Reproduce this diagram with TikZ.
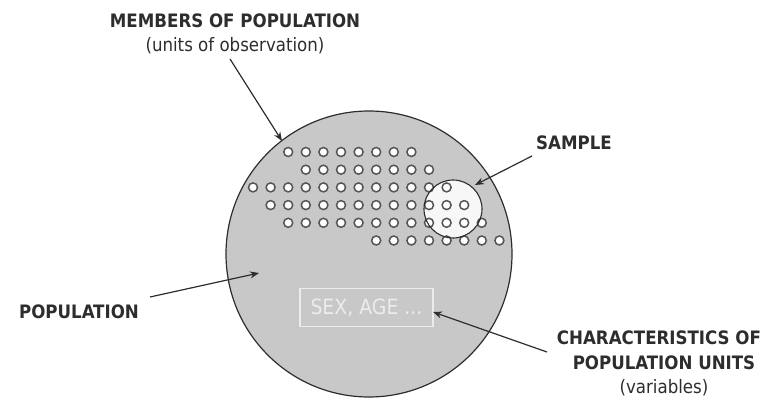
\documentclass[tikz,border=0pt]{standalone}
\usepackage{fontspec}
\setmainfont{DejaVu Sans Condensed}
\usetikzlibrary{arrows.meta}
\definecolor{popgray}{RGB}{200,200,200}
\definecolor{inkgray}{RGB}{45,45,45}
\definecolor{dotline}{RGB}{85,85,85}
\definecolor{boxline}{RGB}{236,236,236}
\tikzset{
  popcirc/.style={circle, draw=inkgray, line width=1.2pt, fill=popgray, minimum size=286pt, inner sep=0pt},
  samplefill/.style={circle, fill=white!97!black, minimum size=58pt, inner sep=0pt},
  sampleline/.style={circle, draw=inkgray, line width=1.1pt, minimum size=58pt, inner sep=0pt},
  unitdot/.style={circle, draw=dotline, line width=1.5pt, fill=white, minimum size=9pt, inner sep=0pt},
  pointer/.style={draw=inkgray, line width=1.2pt, -{Stealth[length=9pt,width=7pt]}},
  headlabel/.style={font=\fontsize{18.5}{21}\selectfont\bfseries, text=inkgray, inner sep=0pt},
  sublabel/.style={font=\fontsize{18.5}{21}\selectfont, text=inkgray, inner sep=0pt},
  varbox/.style={draw=boxline, line width=1.5pt, minimum width=133pt, minimum height=38pt, inner sep=0pt,
    font=\fontsize{21}{23}\selectfont, text=boxline}
}
\begin{document}
\begin{tikzpicture}[x=1pt,y=-1pt]
\useasboundingbox (0,0) rectangle (768,398);
% population
\node[popcirc] (pop) at (369,254) {};
\node[samplefill] (samplebg) at (453,209) {};
% dots
\foreach \j/\ka/\kb in {0/2/9,1/3/10,2/0/11,3/1/12,4/2/13,5/7/14}{
  \foreach \k in {\ka,...,\kb}{
    \node[unitdot] (d-\j-\k) at ({253+17.6*\k},{152+17.7*\j}) {};
  }
}
\node[sampleline] (sample) at (453,209) {};
% variables box
\node[varbox] (vars) at (366.5,307.5) {SEX, AGE ...};
% labels
\node[headlabel] (memb) at (235,20.5) {MEMBERS OF POPULATION};
\node[sublabel] (units) at (235,46) {(units of observation)};
\node[headlabel] (samplelab) at (574,142.5) {SAMPLE};
\node[headlabel] (poplab) at (79,311.5) {POPULATION};
\node[headlabel] (char1) at (659,338) {CHARACTERISTICS OF};
\node[headlabel] (char2) at (664,363) {POPULATION UNITS};
\node[sublabel] (char3) at (664,388) {(variables)};
% arrow anchors
\coordinate (m0) at (230,59);
\coordinate (m1) at (282,141);
\coordinate (s0) at (532,156);
\coordinate (s1) at (475,185);
\coordinate (p0) at (150,297);
\coordinate (p1) at (259,273);
\coordinate (c0) at (547,352);
\coordinate (c1) at (433,312);
\draw[pointer] (m0) -- (m1);
\draw[pointer] (s0) -- (s1);
\draw[pointer] (p0) -- (p1);
\draw[pointer] (c0) -- (c1);
\end{tikzpicture}
\end{document}
